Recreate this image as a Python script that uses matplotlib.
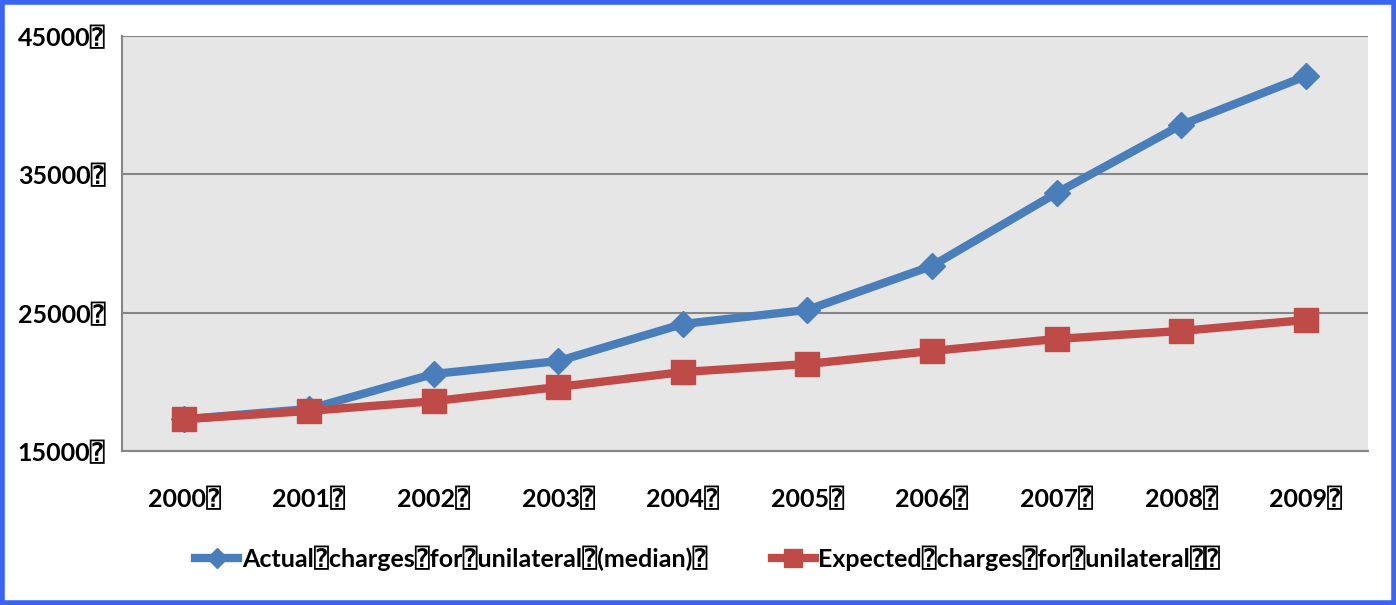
import matplotlib.pyplot as plt
from matplotlib.patches import Rectangle

# Cargos por año
anios = ['2000', '2001', '2002', '2003', '2004', '2005', '2006', '2007', '2008', '2009']
actual = [17300, 18040, 20570, 21500, 24180, 25200, 28380, 33650, 38570, 42100]
esperado = [17300, 17900, 18600, 19630, 20710, 21290, 22230, 23100, 23680, 24470]
yticks = [15000, 25000, 35000, 45000]

Q = '\u2370'
etiqueta_actual = f'Actual{Q}charges{Q}for{Q}unilateral{Q}(median){Q}'
etiqueta_esperado = f'Expected{Q}charges{Q}for{Q}unilateral{Q}{Q}'

plt.rcParams['font.family'] = ['Lato', 'DejaVu Sans Mono', 'DejaVu Sans']
plt.rcParams['font.weight'] = 'bold'

fig = plt.figure(figsize=(13.96, 6.05), dpi=100)
ax = fig.add_axes([0.0874, 0.2545, 0.8926, 0.686])
ax.set_facecolor('#E6E6E6')

x = range(len(anios))
ax.plot(x, actual, color='#4A7EBB', lw=6, marker='D', ms=13,
        label=etiqueta_actual, zorder=3)
ax.plot(x, esperado, color='#BE4B48', lw=6, marker='s', ms=17,
        label=etiqueta_esperado, zorder=4)

ax.set_xlim(-0.5, 9.5)
ax.set_ylim(15000, 45000)
ax.set_yticks(yticks)
ax.set_yticklabels([f'{v}{Q}' for v in yticks], fontsize=18, fontweight='bold')
ax.set_xticks(list(x))
ax.set_xticklabels([a + Q for a in anios], fontsize=18, fontweight='bold')
ax.tick_params(length=0)
ax.tick_params(axis='y', pad=12)
ax.tick_params(axis='x', pad=26)

ax.grid(axis='y', color='#868686', lw=1.5)
ax.set_axisbelow(True)
for s in ['top', 'right']:
    ax.spines[s].set_visible(False)
for s in ['left', 'bottom']:
    ax.spines[s].set_color('#868686')
    ax.spines[s].set_linewidth(1.5)

fig.legend(loc='center', bbox_to_anchor=(0.507, 0.078), ncol=2, frameon=False,
           prop={'size': 18, 'weight': 'bold'}, handlelength=1.7, markerscale=0.75,
           columnspacing=2.6, handletextpad=0.15)

# marco azul alrededor de la figura
fig.patches.append(Rectangle((0.0015, 0.003), 0.997, 0.994, transform=fig.transFigure,
                             fill=False, edgecolor='#3B64F5', lw=4))

fig.savefig('out.png', dpi=100)
